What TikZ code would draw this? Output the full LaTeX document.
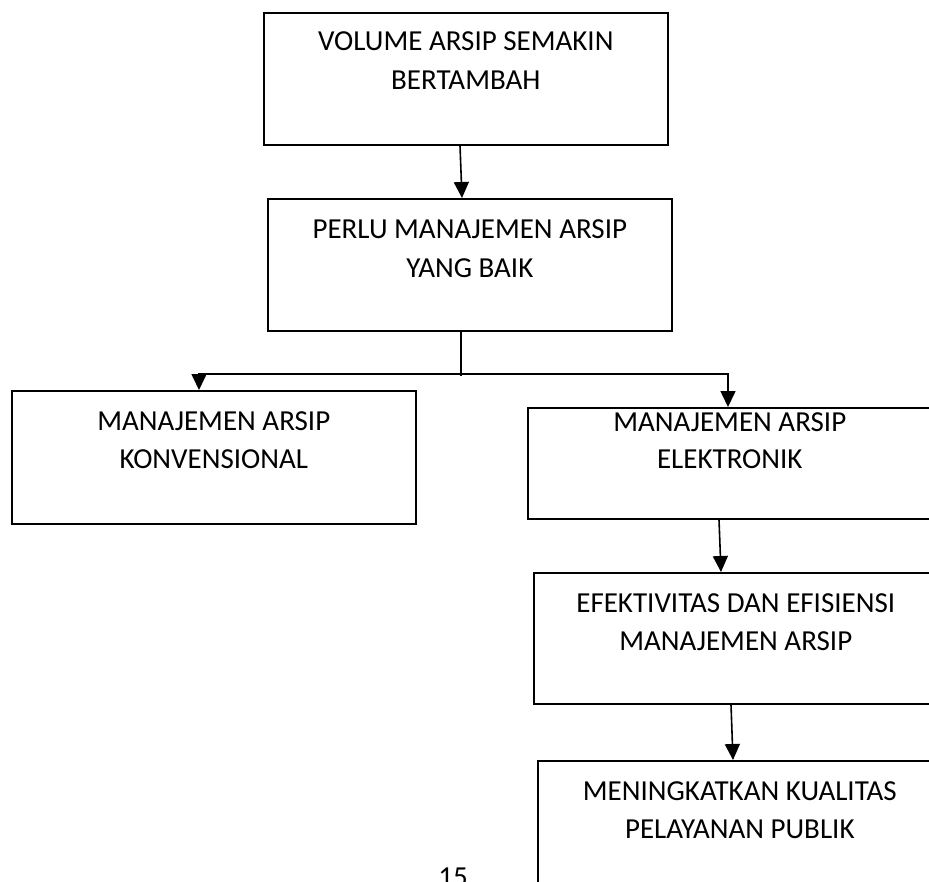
\documentclass[tikz,border=0pt]{standalone}
\usepackage{fontspec}
\setmainfont{Carlito}
\usetikzlibrary{arrows.meta,calc}
\newcommand{\bxtext}[5]{\parbox[t][#1pt][t]{404pt}{\centering\rule{0pt}{#2pt}#3\\[#5pt]#4}}
\begin{document}
\begin{tikzpicture}[x=1pt,y=-1pt,
  box/.style={draw,line width=1.6pt,inner sep=0pt,anchor=north west,font=\fontsize{29}{39}\selectfont},
  conn/.style={line width=1.6pt},
  arr/.style={line width=1.6pt,-{Triangle[length=16pt,width=15pt]}}]
\useasboundingbox (0,0) rectangle (929,881);
\clip (0,0) rectangle (929,881);
\node[box] (b1) at (263,12) {\bxtext{132}{38}{VOLUME ARSIP SEMAKIN}{BERTAMBAH}{0}};
\node[box] (b2) at (267,198) {\bxtext{132}{40}{PERLU MANAJEMEN ARSIP}{YANG BAIK}{0}};
\node[box] (b3) at (11,390) {\bxtext{133}{40}{MANAJEMEN ARSIP}{KONVENSIONAL}{-1}};
\node[box] (b4) at (527,407) {\bxtext{111}{24}{MANAJEMEN ARSIP}{ELEKTRONIK}{-2}};
\node[box] (b5) at (533,572) {\bxtext{131}{40}{EFEKTIVITAS DAN EFISIENSI}{MANAJEMEN ARSIP}{-1}};
\node[box] (b6) at (537,760) {\bxtext{132}{40}{MENINGKATKAN KUALITAS}{PELAYANAN PUBLIK}{-1}};
\node[font=\fontsize{29}{39}\selectfont,anchor=base,inner sep=0pt] (pg) at (453,886) {15};
\coordinate (j) at (461,374);
\draw[arr] ($(b1.south west)+(197,0)$) -- ($(b2.north west)+(195,0)$);
\draw[conn] ($(b2.south west)+(194,0)$) -- ($(j)+(0,2)$);
\draw[arr] (j) -| ($(b3.north west)+(188,0)$);
\draw[arr] (j) -| ($(b4.north west)+(201,0)$);
\draw[arr] ($(b4.south west)+(192,0)$) -- ($(b5.north west)+(188,0)$);
\draw[arr] ($(b5.south west)+(198,0)$) -- ($(b6.north west)+(196,0)$);
\end{tikzpicture}
\end{document}
